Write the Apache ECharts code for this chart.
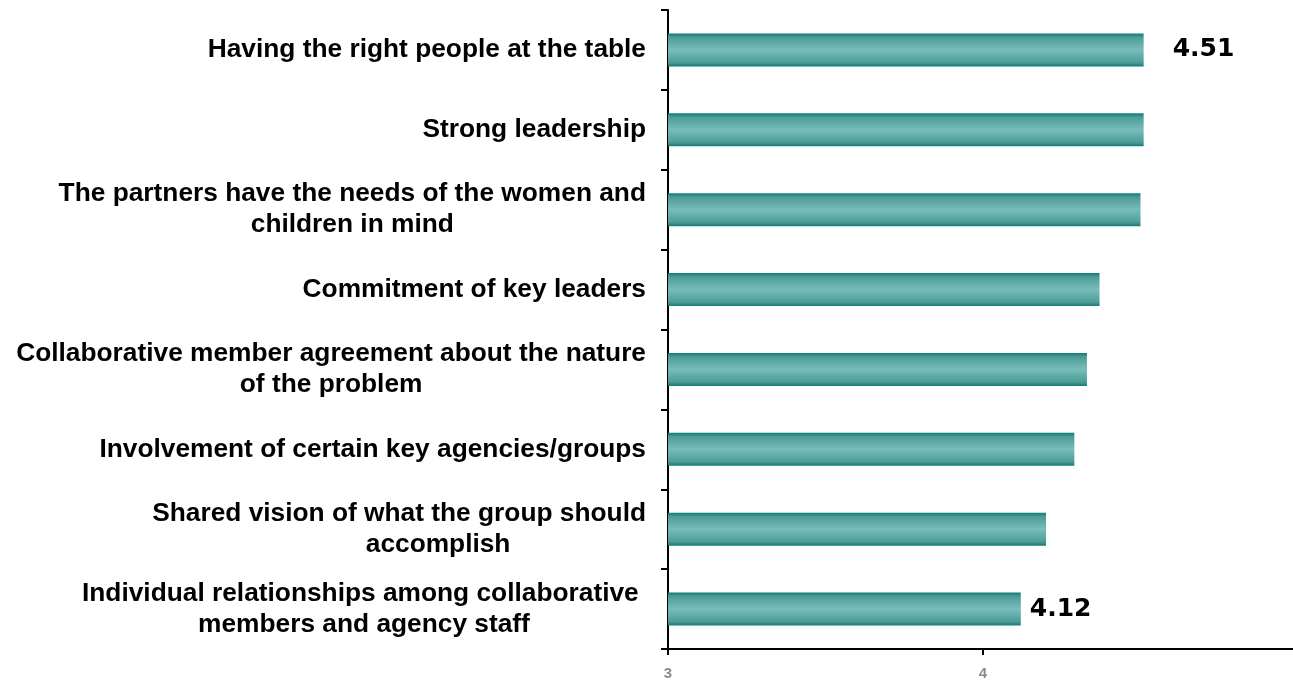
<!DOCTYPE html>
<html>
<head>
<meta charset="utf-8">
<script src="https://cdn.jsdelivr.net/npm/echarts@6/dist/echarts.min.js"></script>
<style>
html,body{margin:0;padding:0;background:#fff;}
#main{width:1293px;height:682px;}
</style>
</head>
<body>
<div id="main"></div>
<script>
const categories = [
  "Having the right people at the table",
  "Strong leadership",
  "The partners have the needs of the women and\nchildren in mind",
  "Commitment of key leaders",
  "Collaborative member agreement about the nature\nof the problem",
  "Involvement of certain key agencies/groups",
  "Shared vision of what the group should\naccomplish",
  "Individual relationships among collaborative \nmembers and agency staff"
];
const values = [4.51, 4.51, 4.50, 4.37, 4.33, 4.29, 4.20, 4.12];
const labelledIndices = [0, 7];
const xTicks = [3, 4, 5];

const labelFont = {fontFamily: '"Liberation Sans", Arial, sans-serif', fontWeight: 'bold', fontSize: 26.3, color: '#000', lineHeight: 31};

const chart = echarts.init(document.getElementById('main'), null, {renderer: 'canvas'});

const barGradient = new echarts.graphic.LinearGradient(0, 0, 0, 1, [
  {offset: 0, color: '#0f7b77'},
  {offset: 0.12, color: '#4d9c98'},
  {offset: 0.5, color: '#78bdb9'},
  {offset: 0.88, color: '#4d9c98'},
  {offset: 1, color: '#0f7b77'}
]);

const seriesData = values.map((v, i) => {
  const item = {value: v};
  if (labelledIndices.includes(i)) {
    item.label = {
      show: true,
      position: 'right',
      distance: i === 0 ? 29 : 9,
      formatter: (p) => p.value.toFixed(2),
      fontFamily: '"DejaVu Sans", sans-serif',
      fontWeight: 'bold',
      fontSize: 25,
      color: '#000'
    };
  }
  return item;
});

chart.setOption({
  animation: false,
  backgroundColor: '#fff',
  grid: {left: 668, width: 630, top: 10, bottom: 33, containLabel: false, outerBoundsMode: 'none'},
  xAxis: {
    type: 'value',
    min: xTicks[0],
    max: xTicks[xTicks.length - 1],
    interval: 1,
    axisLine: {show: true, lineStyle: {color: '#000', width: 2}},
    axisTick: {show: true, length: 6, lineStyle: {color: '#000', width: 2}},
    splitLine: {show: false},
    axisLabel: {
      color: '#8a8a8a', fontSize: 15, fontWeight: 'bold',
      fontFamily: '"Liberation Sans", Arial, sans-serif', margin: 17
    }
  },
  yAxis: {
    type: 'category',
    inverse: true,
    data: categories,
    axisLine: {show: true, lineStyle: {color: '#000', width: 2}},
    axisTick: {show: true, length: 7, lineStyle: {color: '#000', width: 2}},
    axisLabel: {
      margin: 22,
      ...labelFont,
      formatter: (val) => {
        const lines = val.split('\n');
        return lines.map((ln, k) => {
          const style = (val.startsWith('Shared') && k === 1) ? 'cs' : 'c';
          return '{' + style + '|' + ln + '}';
        }).join('\n');
      },
      rich: {
        c: Object.assign({align: 'center'}, labelFont),
        cs: Object.assign({align: 'center', padding: [0, 0, 0, 78]}, labelFont)
      }
    }
  },
  series: [{
    type: 'bar',
    data: seriesData,
    barWidth: 33,
    itemStyle: {color: barGradient},
    label: {show: false}
  }]
});
</script>
</body>
</html>
